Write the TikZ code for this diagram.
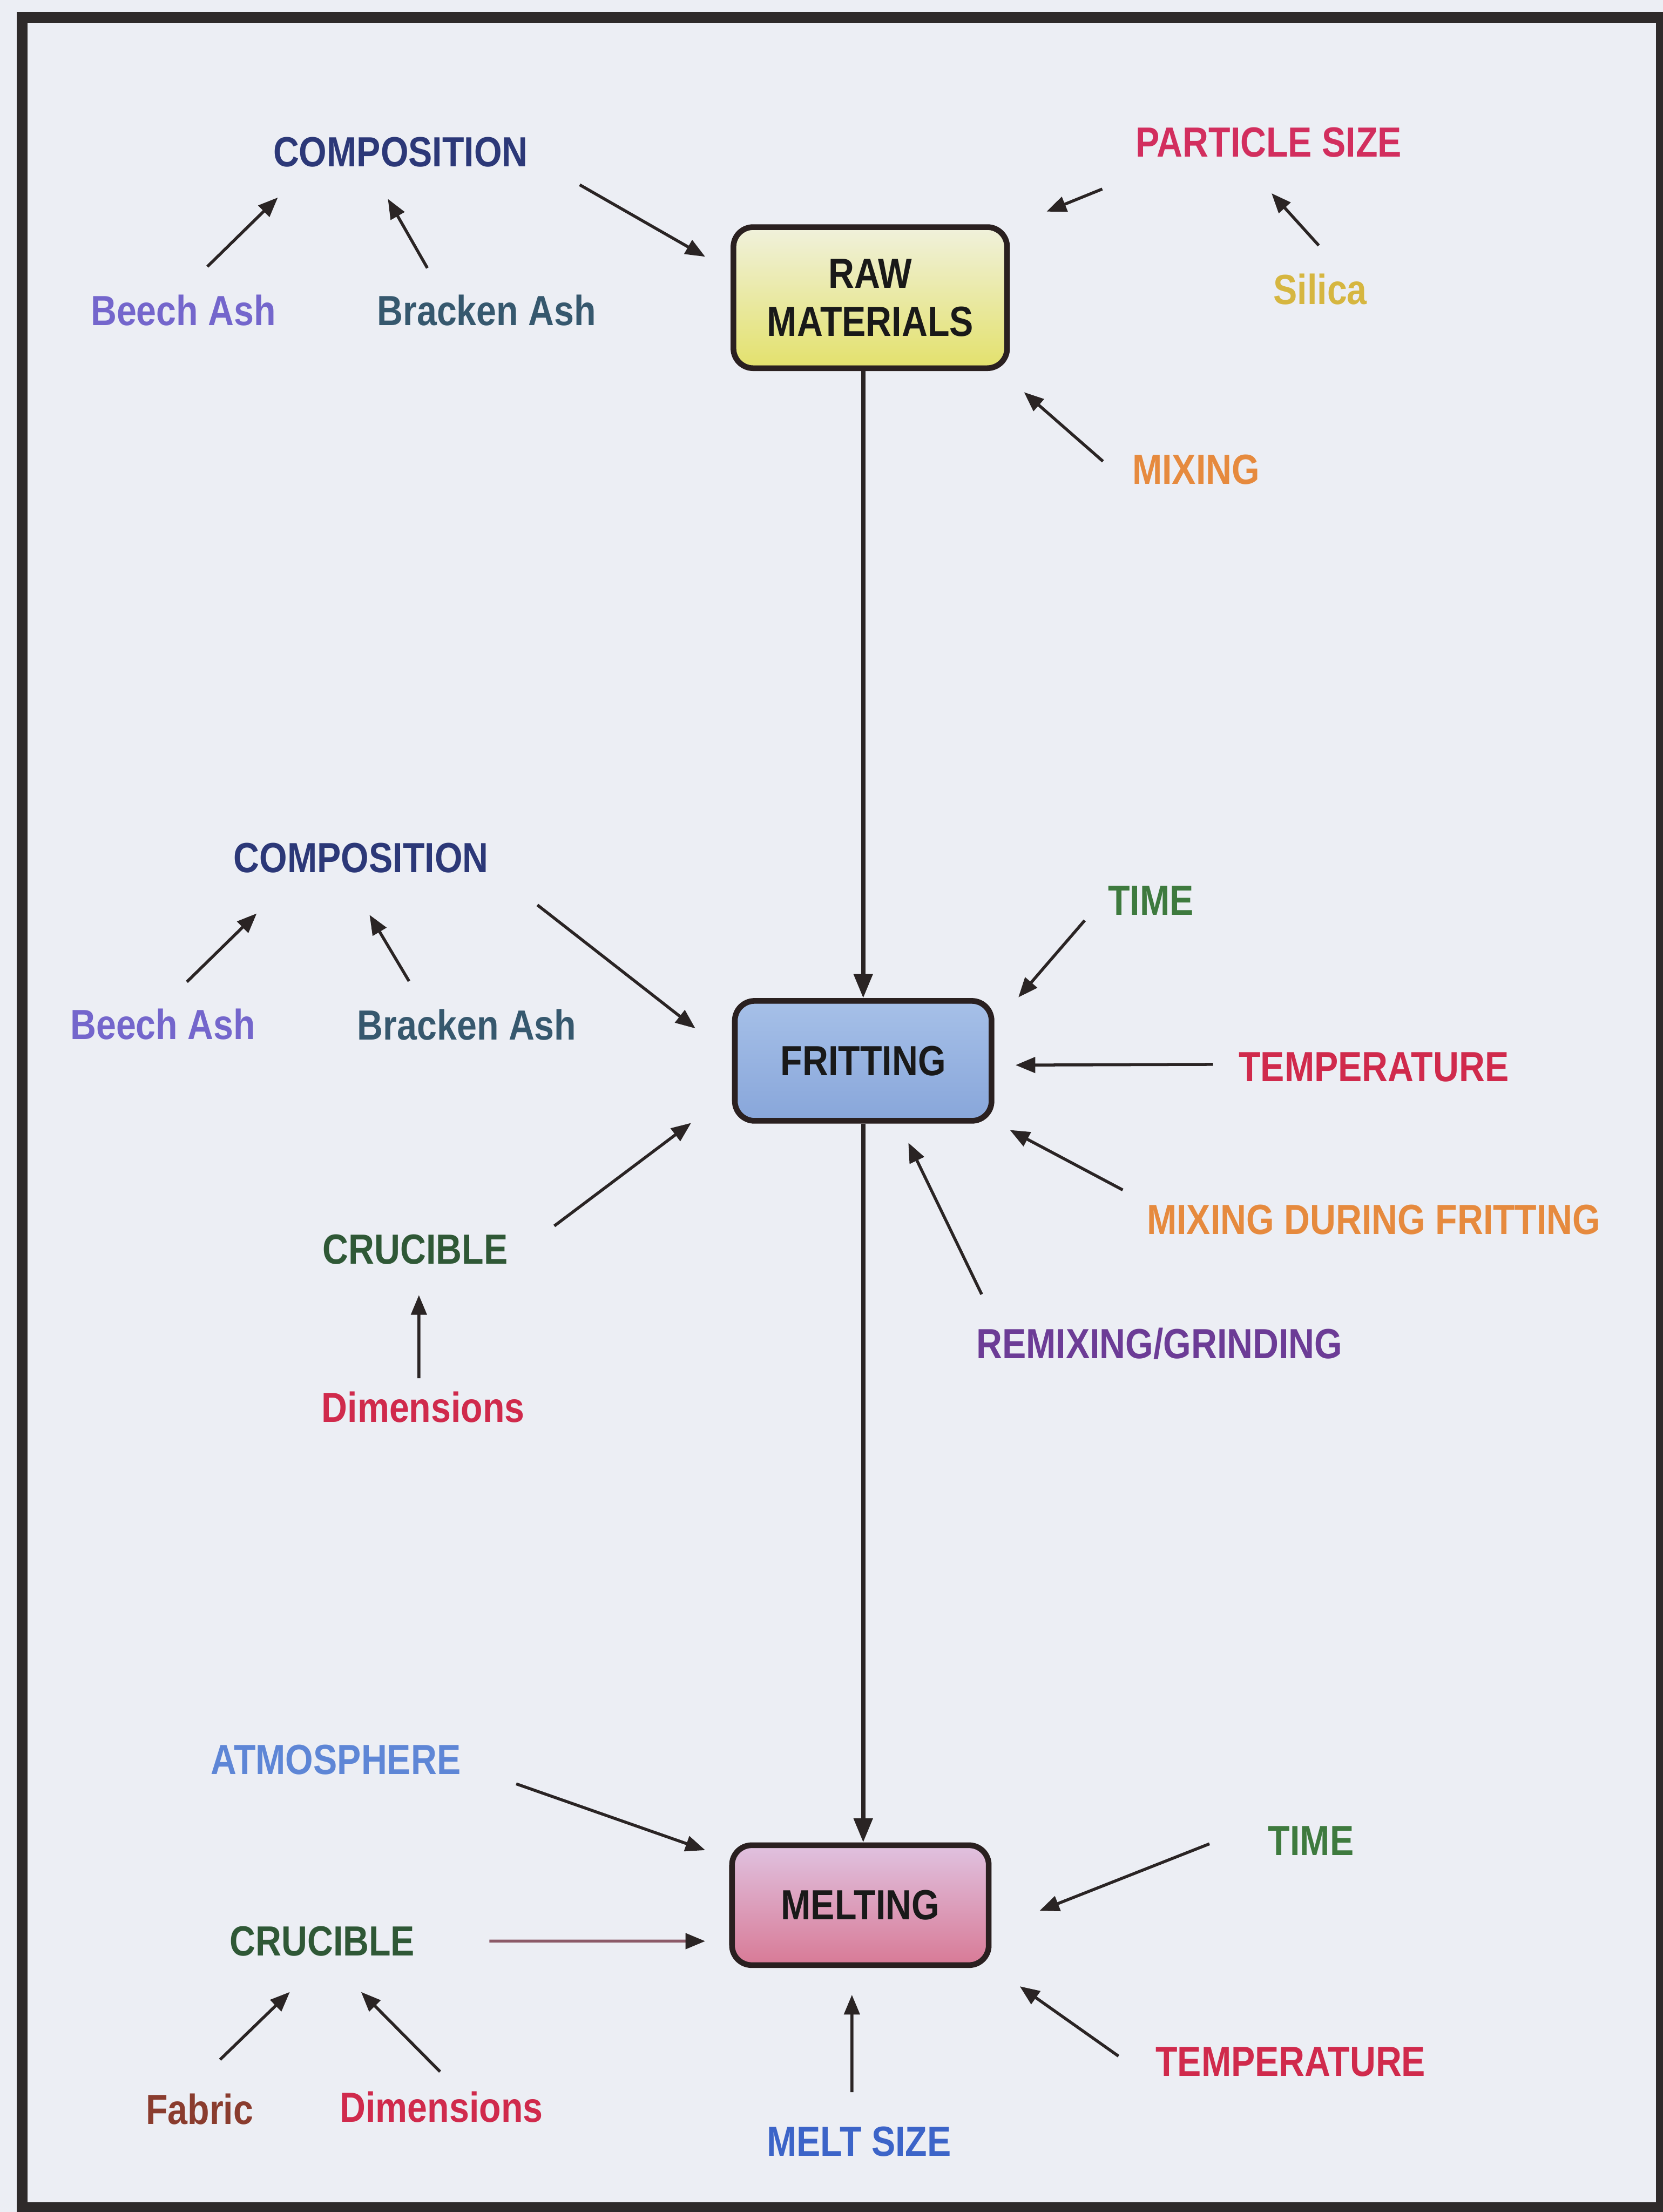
\documentclass[tikz,border=0pt]{standalone}
\usepackage{fontspec}
\setmainfont[FakeStretch=0.85]{Liberation Sans}
\usetikzlibrary{arrows.meta}

\definecolor{pagebg}{HTML}{ECEEF4}
\definecolor{framecol}{HTML}{2E2A2A}
\definecolor{boxline}{HTML}{2A2020}
\definecolor{arrowgray}{HTML}{2A2424}
\definecolor{rawtop}{HTML}{F0F1DC}
\definecolor{rawbot}{HTML}{E3E16C}
\definecolor{fritop}{HTML}{A6C0E8}
\definecolor{fribot}{HTML}{88A6DA}
\definecolor{meltop}{HTML}{E0C2E0}
\definecolor{melbot}{HTML}{D87A96}
\definecolor{compnavy}{HTML}{2C3878}
\definecolor{psizered}{HTML}{D22E5E}
\definecolor{redlbl}{HTML}{D02A4C}
\definecolor{beechpurple}{HTML}{7466CC}
\definecolor{brackenteal}{HTML}{36586E}
\definecolor{silicagold}{HTML}{D6B640}
\definecolor{mixorange}{HTML}{E68A3E}
\definecolor{timegreen}{HTML}{3E7A3E}
\definecolor{cruciblegreen}{HTML}{2F5836}
\definecolor{remixpurple}{HTML}{6C3C96}
\definecolor{atmosblue}{HTML}{5E86D6}
\definecolor{meltblue}{HTML}{3C64C8}
\definecolor{fabricbrown}{HTML}{8A3C2E}
\definecolor{mauve}{HTML}{8C5A68}

\begin{document}
\begin{tikzpicture}[
    lbl/.style={font=\fontsize{17}{20}\selectfont\bfseries, inner sep=0pt},
    stage/.style={draw=boxline, line width=2.3pt, rounded corners=0.28cm, align=center,
        font=\fontsize{17}{19.4}\selectfont\bfseries, text=black!90,
        minimum width=3.64cm, minimum height=1.7cm},
    arr/.style={-{Triangle[length=0.28cm,width=0.22cm]}, line width=1.2pt, draw=arrowgray},
    flow/.style={-{Triangle[length=0.34cm,width=0.26cm]}, line width=1.7pt, draw=arrowgray},
]
    % Seite und Rahmen
    \useasboundingbox (0,0) rectangle (23.58,-31.36);
    \fill[pagebg] (0,0) rectangle (23.58,-31.36);
    \draw[framecol, line width=0.16cm] (0.314,-0.25) rectangle (23.56,-31.3);

    % die drei Stufen
    \node[stage, top color=rawtop, bottom color=rawbot, minimum width=3.88cm, minimum height=2.0cm]
        (raw) at (12.34,-4.22) {RAW\\MATERIALS};
    \node[stage, top color=fritop, bottom color=fribot] (frit) at (12.24,-15.04) {FRITTING};
    \node[stage, top color=meltop, bottom color=melbot] (melt) at (12.2,-27.01) {MELTING};

    \draw[flow] (raw.south -| frit.north) -- (frit.north);
    \draw[flow] (frit.south) -- (frit.south |- melt.north);

    % Rohstoffe
    \node[lbl, text=compnavy] (comp1) at (5.68,-2.16) {COMPOSITION};
    \node[lbl, text=beechpurple] (beech1) at (2.6,-4.4) {Beech Ash};
    \node[lbl, text=brackenteal] (bracken1) at (6.9,-4.4) {Bracken Ash};
    \node[lbl, text=psizered] (psize) at (17.99,-2.02) {PARTICLE SIZE};
    \node[lbl, text=silicagold] (silica) at (18.72,-4.1) {Silica};
    \node[lbl, text=mixorange] (mixing) at (16.96,-6.66) {MIXING};

    \draw[arr] ([shift={(0.34,0.62)}]beech1.center) -- ([shift={(-1.74,-0.64)}]comp1.center);
    \draw[arr] ([shift={(-0.84,0.6)}]bracken1.center) -- ([shift={(-0.18,-0.66)}]comp1.center);
    \draw[arr] ([shift={(2.54,-0.46)}]comp1.center) -- ([shift={(-2.34,0.58)}]raw.center);
    \draw[arr] ([shift={(-2.36,-0.66)}]psize.center) -- ([shift={(2.5,1.22)}]raw.center);
    \draw[arr] ([shift={(-0.02,0.62)}]silica.center) -- ([shift={(0.04,-0.72)}]psize.center);
    \draw[arr] ([shift={(-1.32,0.12)}]mixing.center) -- ([shift={(2.18,-1.34)}]raw.center);

    % Fritten
    \node[lbl, text=compnavy] (comp2) at (5.12,-12.16) {COMPOSITION};
    \node[lbl, text=beechpurple] (beech2) at (2.31,-14.52) {Beech Ash};
    \node[lbl, text=brackenteal] (bracken2) at (6.62,-14.53) {Bracken Ash};
    \node[lbl, text=timegreen] (time1) at (16.32,-12.77) {TIME};
    \node[lbl, text=redlbl] (temp1) at (19.48,-15.13) {TEMPERATURE};
    \node[lbl, text=mixorange] (mixfrit) at (19.48,-17.29) {MIXING DURING FRITTING};
    \node[lbl, text=remixpurple] (remix) at (16.44,-19.05) {REMIXING/GRINDING};
    \node[lbl, text=cruciblegreen] (cruc1) at (5.89,-17.71) {CRUCIBLE};
    \node[lbl, text=redlbl] (dim1) at (6.0,-19.95) {Dimensions};

    \draw[arr] ([shift={(0.34,0.6)}]beech2.center) -- ([shift={(-1.48,-0.79)}]comp2.center);
    \draw[arr] ([shift={(-0.82,0.62)}]bracken2.center) -- ([shift={(0.12,-0.81)}]comp2.center);
    \draw[arr] ([shift={(2.5,-0.67)}]comp2.center) -- ([shift={(-2.38,0.46)}]frit.center);
    \draw[arr] ([shift={(-0.94,-0.28)}]time1.center) -- ([shift={(2.2,0.9)}]frit.center);
    \draw[arr] ([shift={(-2.28,0.04)}]temp1.center) -- ([shift={(2.16,-0.06)}]frit.center);
    \draw[arr] ([shift={(-3.56,0.42)}]mixfrit.center) -- ([shift={(2.08,-0.98)}]frit.center);
    \draw[arr] ([shift={(-2.52,0.7)}]remix.center) -- ([shift={(0.64,-1.16)}]frit.center);
    \draw[arr] ([shift={(1.97,0.33)}]cruc1.center) -- ([shift={(-2.44,-0.88)}]frit.center);
    \draw[arr] ([shift={(-0.06,0.41)}]dim1.center) -- ([shift={(0.05,-0.65)}]cruc1.center);

    % Schmelzen
    \node[lbl, text=atmosblue] (atmos) at (4.76,-24.95) {ATMOSPHERE};
    \node[lbl, text=timegreen] (time2) at (18.59,-26.1) {TIME};
    \node[lbl, text=cruciblegreen] (cruc2) at (4.57,-27.52) {CRUCIBLE};
    \node[lbl, text=fabricbrown] (fabric) at (2.83,-29.9) {Fabric};
    \node[lbl, text=redlbl] (dim2) at (6.26,-29.87) {Dimensions};
    \node[lbl, text=meltblue] (msize) at (12.18,-30.36) {MELT SIZE};
    \node[lbl, text=redlbl] (temp2) at (18.3,-29.23) {TEMPERATURE};

    \draw[arr] ([shift={(2.56,-0.34)}]atmos.center) -- ([shift={(-2.2,0.78)}]melt.center);
    \draw[arr] ([shift={(-1.44,-0.04)}]time2.center) -- ([shift={(2.54,-0.08)}]melt.center);
    \draw[arr, draw=mauve, -{Triangle[length=0.28cm,width=0.22cm,color=arrowgray]}]
        ([shift={(2.37,0)}]cruc2.center) -- ([shift={(-2.2,-0.51)}]melt.center);
    \draw[arr] ([shift={(0.29,0.7)}]fabric.center) -- ([shift={(-0.46,-0.72)}]cruc2.center);
    \draw[arr] ([shift={(-0.02,0.5)}]dim2.center) -- ([shift={(0.55,-0.72)}]cruc2.center);
    \draw[arr] ([shift={(-0.1,0.7)}]msize.center) -- ([shift={(-0.12,-1.27)}]melt.center);
    \draw[arr] ([shift={(-2.44,0.08)}]temp2.center) -- ([shift={(2.26,-1.15)}]melt.center);
\end{tikzpicture}
\end{document}
